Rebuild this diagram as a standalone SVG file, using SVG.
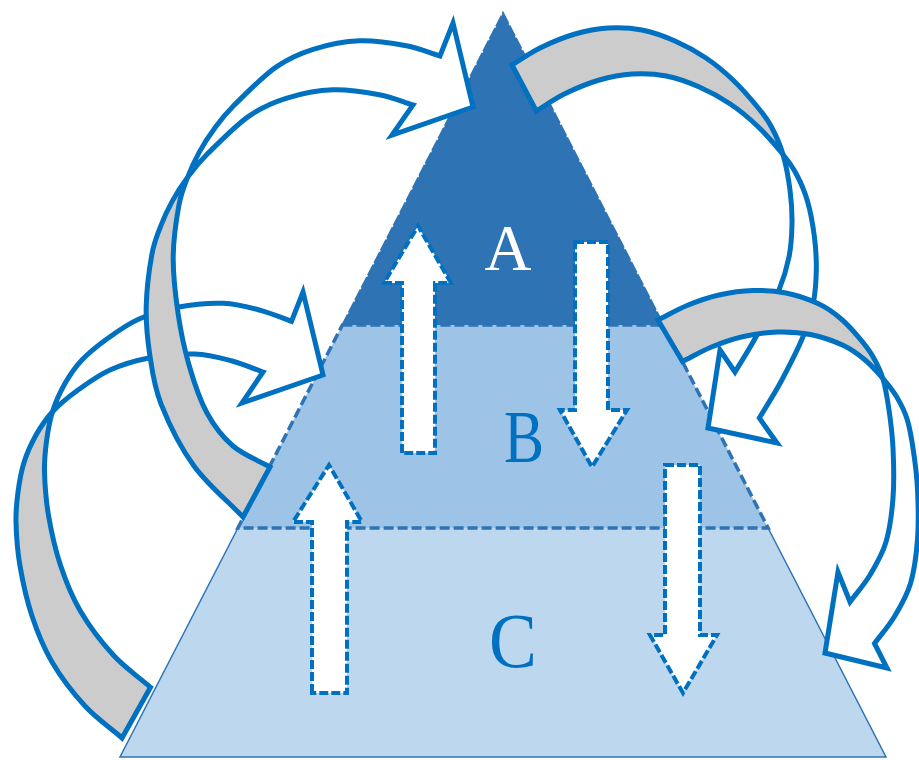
<svg xmlns="http://www.w3.org/2000/svg" width="919" height="760" viewBox="0 0 919 760">
<style>
.ribbon{stroke:#0070C0;stroke-width:5;stroke-linejoin:miter;stroke-miterlimit:4}
.front{fill:#FFFFFF}
.back{fill:#CCCCCC}
.flow{fill:#FFFFFF;stroke:#0070C0;stroke-width:4;stroke-dasharray:9 3}
.lbl{font-family:"Liberation Serif","Times New Roman",serif;text-anchor:middle}
</style>
<rect width="919" height="760" fill="#FFFFFF"/>
<g id="layer-C">
<polygon points="237.9,528 768.1,528 886,757 120,757" fill="#BDD7EE"/>
<polyline points="237.9,528 120,757 886,757 768.1,528" fill="none" stroke="#2E74B5" stroke-width="1.5"/>
<text class="lbl" transform="translate(513,667) scale(0.92,1)" font-size="78" fill="#0070C0">C</text>
</g>
<g id="layer-A">
<polygon points="503,13 663.6,325 342.4,325" fill="#2E74B5" stroke="#2E74B5" stroke-width="2" stroke-dasharray="12 2"/>
<text class="lbl" x="508" y="270" font-size="65" fill="#FFFFFF">A</text>
</g>
<g id="layer-B">
<polygon points="342.4,325 663.6,325 768.1,528 237.9,528" fill="#9DC3E6" stroke="#2E74B5" stroke-width="3.5" stroke-dasharray="10 4"/>
<text class="lbl" transform="translate(524,462) scale(0.8,1)" font-size="75" fill="#0070C0">B</text>
</g>
<g id="connectors">
<polygon class="flow" points="402,453 402,283 384,283 418,226 451,283 435,283 435,453"/>
<polygon class="flow" points="575,242 608,242 608,410 627,410 592,467 560,410 575,410"/>
<polygon class="flow" points="312,693 312,522 293,522 329,465 362,522 347,522 347,693"/>
<polygon class="flow" points="665,465 700,465 700,635 717,635 683,693 650,635 665,635"/>
<g id="arrow-C-to-B">
<path class="ribbon back" d="M 122 738 C 109.7 727.3 96.7 718.7 85 706 C 73.3 693.3 60.8 677 52 662 C 43.2 647 37.3 632 32 616 C 26.7 600 22.7 581.7 20 566 C 17.3 550.3 16.3 534.3 16 522 C 15.7 509.7 16.7 501.9 18 492 C 19.3 482.1 21 471.9 24 462.4 C 27 452.9 31.3 443.5 36 435 C 40.8 426.6 45.5 419.2 52.5 411.7 C 49.5 421.2 47.8 431.4 46.5 441.3 C 45.2 451.2 44.2 459 44.5 471.3 C 44.8 483.6 45.8 499.6 48.5 515.3 C 51.2 531 55.2 549.3 60.5 565.3 C 65.8 581.3 71.7 596.3 80.5 611.3 C 89.3 626.3 101.8 642.6 113.5 655.3 C 125.2 668 138.2 676.6 150.5 687.3 Z"/>
<path class="ribbon front" d="M 52.5 411.7 C 55.5 402.2 59.8 392.8 64.5 384.3 C 69.3 375.9 74 368.5 81 361 C 88 353.5 96.9 346.3 106.5 339.3 C 116.1 332.4 126.7 324.6 138.5 319.3 C 150.3 314 163.3 310 177.5 307.3 C 191.7 304.6 209.7 302.8 223.5 303.3 C 237.3 303.8 249.2 307.3 260.5 310.3 C 271.8 313.3 281.2 317.6 291.5 321.3 L 303 292 L 323 375 L 242 403 L 263 372 C 252.7 368.3 243.3 364 232 361 C 220.7 358 208.8 354.5 195 354 C 181.2 353.5 163.2 355.3 149 358 C 134.8 360.7 121.8 364.7 110 370 C 98.2 375.3 87.6 383.1 78 390 C 68.4 397 59.5 404.2 52.5 411.7 Z"/>
</g>
<g id="arrow-B-to-A">
<path class="ribbon back" d="M 243 517 C 226.7 500 207.7 484.9 194 466 C 180.3 447.1 168.4 422.5 161 403.8 C 153.6 385.2 152.2 370.3 149.7 354.1 C 147.2 337.9 145.9 323.1 146.2 306.6 C 146.6 290.1 149.4 268.2 151.8 254.9 C 154.2 241.6 157.1 235.6 160.5 226.6 C 163.9 217.6 167.8 209.3 172.3 201.1 C 176.8 192.9 181.7 185.3 187.5 177.5 C 184.1 186.6 181.2 192.6 178.8 205.9 C 176.4 219.2 173.3 239.8 173.2 257.6 C 173.1 275.5 175.4 295.1 178 313 C 180.6 330.9 184.2 348.3 189 365 C 193.8 381.7 199.7 399.5 207 413 C 214.3 426.5 222.5 437 233 446 C 243.5 455 257.7 460 270 467 Z"/>
<path class="ribbon front" d="M 187.5 177.6 C 190.9 168.6 194.8 160.3 199.3 152.1 C 203.8 143.9 208.7 136.3 214.5 128.5 C 220.3 120.7 224.1 115.3 234.3 105.1 C 244.5 94.9 262.5 76.7 275.6 67.4 C 288.7 58.1 299 53.7 313.1 49.3 C 327.2 44.9 344.5 41.4 360 40.8 C 375.5 40.2 393 43.3 406.3 45.8 C 419.6 48.3 428.8 52.6 440 56 L 453 23 L 473 107 L 392 135 L 413 105 C 401.8 101.6 392.6 97.3 379.3 94.8 C 366 92.3 348.5 89.2 333 89.8 C 317.5 90.4 300.2 93.9 286.1 98.3 C 272 102.7 261.7 107.1 248.6 116.4 C 235.5 125.7 217.5 143.9 207.3 154.1 C 197.1 164.3 193.3 169.7 187.5 177.5 Z"/>
</g>
<g id="arrow-A-to-B">
<path class="ribbon back" d="M 512 65 C 521.3 59.3 529.5 53.2 540 48 C 550.5 42.8 563.7 37.3 575 34 C 586.3 30.7 596.8 28.7 608 28 C 619.2 27.3 630.8 27.8 642 30 C 653.2 32.2 664.3 36.3 675 41 C 685.7 45.7 696.3 51.5 706 58 C 715.7 64.5 724.2 71.6 733 80 C 741.8 88.4 752.2 100.5 758.7 108.5 C 765.2 116.5 768 120.3 772 128 C 776.1 135.7 780 144.2 783 154.5 C 776.5 146.5 766.1 134.4 757.3 126 C 748.5 117.6 740 110.5 730.3 104 C 720.6 97.5 710 91.7 699.3 87 C 688.6 82.3 677.5 78.2 666.3 76 C 655.1 73.8 643.5 73.3 632.3 74 C 621.1 74.7 610.6 76.7 599.3 80 C 588 83.3 574.8 88.8 564.3 94 C 553.8 99.2 545.6 105.3 536.3 111 Z"/>
<path class="ribbon front" d="M 783 154.5 C 789.5 162.5 792.3 166.3 796.3 174 C 800.4 181.7 804.3 190.2 807.3 200.5 C 810.3 210.8 812.8 224.4 814.3 236 C 815.8 247.6 816.5 258.8 816.3 270 C 816.1 281.2 815.5 292 813.3 303 C 811.1 314 808.6 323 803.3 336 C 798 349 788.6 367.3 781.3 381 C 774 394.7 766.6 405.7 759.3 418 L 777 443 L 708 428 L 720 350 L 735 372 C 742.3 359.7 749.7 348.7 757 335 C 764.3 321.3 773.7 303 779 290 C 784.3 277 786.8 268 789 257 C 791.2 246 791.8 235.2 792 224 C 792.2 212.8 791.5 201.6 790 190 C 788.5 178.4 786 164.8 783 154.5 Z"/>
</g>
<g id="arrow-B-to-C">
<path class="ribbon back" d="M 658 320 C 667.7 315.2 676.8 309.7 687 305.5 C 697.2 301.3 708 297.5 719 295 C 730 292.5 741.8 290.8 753 290.5 C 764.2 290.2 775 290.8 786 293 C 797 295.3 810 299.8 819 304 C 828 308.2 833.5 312.5 840 318 C 846.6 323.5 853 330.6 858.3 336.8 C 863.6 343 867.9 348.1 872 355 C 876.1 361.9 880 369.1 882.8 378.3 C 877.5 372.1 871.1 365 864.5 359.5 C 858 354 852.5 349.7 843.5 345.5 C 834.5 341.3 821.5 336.8 810.5 334.5 C 799.5 332.3 788.7 331.7 777.5 332 C 766.3 332.3 754.5 334 743.5 336.5 C 732.5 339 721.7 342.8 711.5 347 C 701.3 351.2 692.2 356.7 682.5 361.5 Z"/>
<path class="ribbon front" d="M 882.8 378.3 C 888.1 384.5 892.4 389.6 896.5 396.5 C 900.6 403.4 904.5 410.6 907.3 419.8 C 910.1 429 911.8 439.9 913.5 451.5 C 915.2 463.1 916.8 474.8 917.5 489.5 C 918.2 504.2 918.7 523.8 917.5 539.5 C 916.3 555.2 914.3 570.7 910.5 583.5 C 906.7 596.3 900.5 606.5 894.5 616.5 C 888.5 626.5 881.2 634.5 874.5 643.5 L 887 668 L 825 653 L 838 572 L 850 602 C 856.7 593 864 585 870 575 C 876 565 882.2 554.8 886 542 C 889.8 529.2 891.8 513.7 893 498 C 894.2 482.3 893.7 462.7 893 448 C 892.3 433.3 890.7 421.6 889 410 C 887.3 398.4 885.6 387.5 882.8 378.3 Z"/>
</g>
</g>
</svg>
